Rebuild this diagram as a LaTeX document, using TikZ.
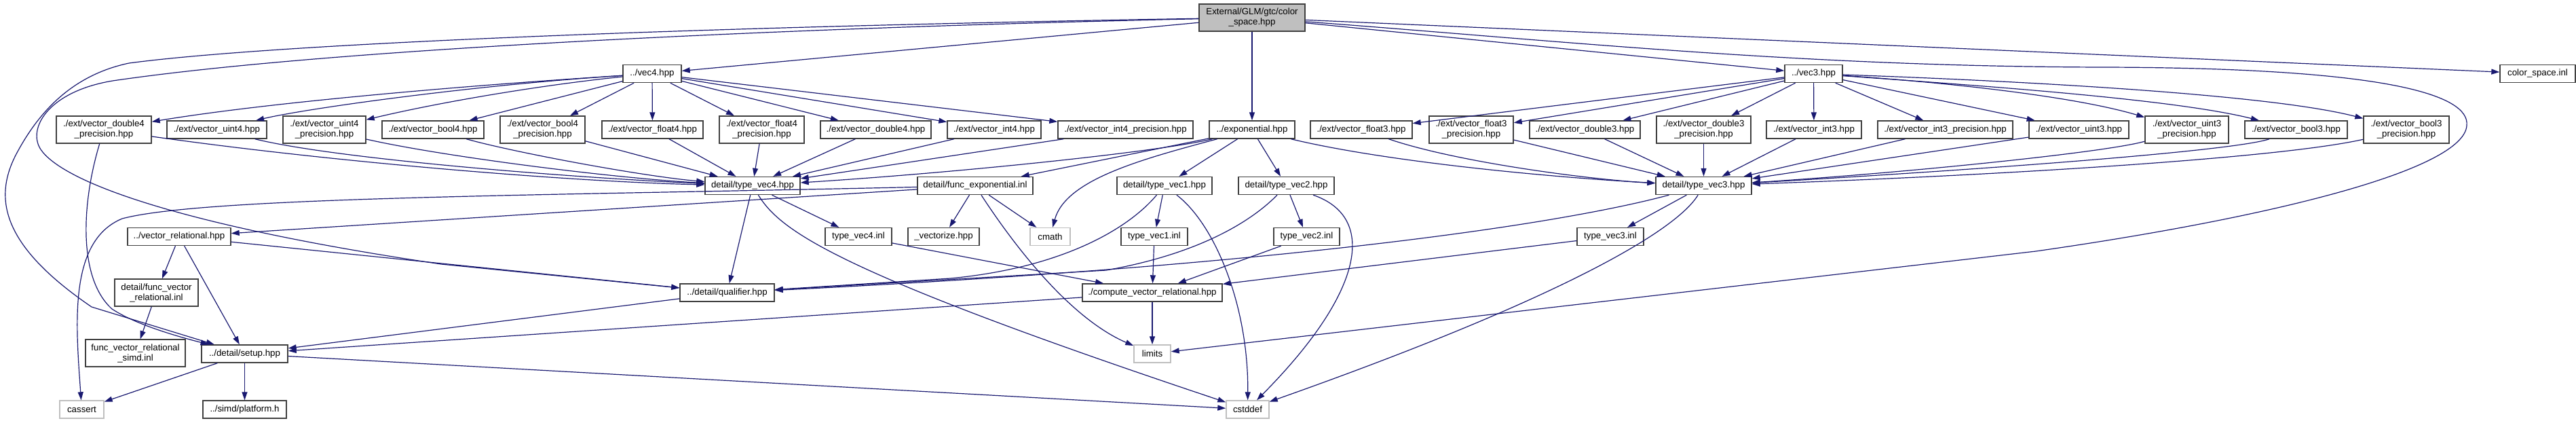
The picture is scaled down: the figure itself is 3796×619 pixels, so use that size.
\documentclass[tikz,border=0pt]{standalone}
\usepackage{fontspec}
\setmainfont{Liberation Sans}
\usetikzlibrary{positioning,arrows.meta}
\definecolor{edgeblue}{HTML}{191970}
\definecolor{boxgrey}{HTML}{404040}
\definecolor{sysgrey}{HTML}{BFBFBF}
\tikzset{
  file/.style={draw=boxgrey, line width=1.4pt, fill=white, inner sep=0pt,
    minimum height=26, align=center, font=\fontsize{13.3}{15}\selectfont},
  file2/.style={file, minimum height=40},
  sysfile/.style={file, draw=sysgrey},
  rootfile/.style={file2, fill=sysgrey},
  edge/.style={draw=edgeblue, line width=1.2pt, -{Triangle[length=12pt,width=8pt]}}
}

\begin{document}
\begin{tikzpicture}[x=1pt, y=-1pt]
  \useasboundingbox (0,0) rectangle (3796,619);

  % top
  \node[rootfile, minimum width=156] (root) at (1845,26) {External/GLM/gtc/color\\\_space.hpp};
  \node[file, minimum width=86] (vec4) at (961,108.5) {../vec4.hpp};
  \node[file, minimum width=85] (vec3) at (2672.5,108.5) {../vec3.hpp};
  \node[file, minimum width=111] (csinl) at (3739.5,108.5) {color\_space.inl};

  % ext row
  \node[file2, minimum width=140] (d4p) at (153,191) {./ext/vector\_double4\\\_precision.hpp};
  \node[file, minimum width=147] (u4) at (319.5,191) {./ext/vector\_uint4.hpp};
  \node[file2, minimum width=122] (u4p) at (478,191) {./ext/vector\_uint4\\\_precision.hpp};
  \node[file, minimum width=150] (b4) at (638,191) {./ext/vector\_bool4.hpp};
  \node[file2, minimum width=125] (b4p) at (799.5,191) {./ext/vector\_bool4\\\_precision.hpp};
  \node[file, minimum width=149] (f4) at (961.5,191) {./ext/vector\_float4.hpp};
  \node[file2, minimum width=125] (f4p) at (1122.5,191) {./ext/vector\_float4\\\_precision.hpp};
  \node[file, minimum width=163] (d4) at (1290.5,191) {./ext/vector\_double4.hpp};
  \node[file, minimum width=138] (i4) at (1465,191) {./ext/vector\_int4.hpp};
  \node[file, minimum width=199] (i4p) at (1658.5,191) {./ext/vector\_int4\_precision.hpp};
  \node[file, minimum width=126] (expo) at (1845,191) {../exponential.hpp};
  \node[file, minimum width=150] (f3) at (2006,191) {./ext/vector\_float3.hpp};
  \node[file2, minimum width=124] (f3p) at (2168,191) {./ext/vector\_float3\\\_precision.hpp};
  \node[file, minimum width=163] (d3) at (2335.5,191) {./ext/vector\_double3.hpp};
  \node[file2, minimum width=139] (d3p) at (2510.5,191) {./ext/vector\_double3\\\_precision.hpp};
  \node[file, minimum width=140] (i3) at (2673,191) {./ext/vector\_int3.hpp};
  \node[file, minimum width=199] (i3p) at (2866.5,191) {./ext/vector\_int3\_precision.hpp};
  \node[file, minimum width=147] (u3) at (3063.5,191) {./ext/vector\_uint3.hpp};
  \node[file2, minimum width=123] (u3p) at (3222.5,191) {./ext/vector\_uint3\\\_precision.hpp};
  \node[file, minimum width=151] (b3) at (3383.5,191) {./ext/vector\_bool3.hpp};
  \node[file2, minimum width=126] (b3p) at (3546,191) {./ext/vector\_bool3\\\_precision.hpp};

  % detail row
  \node[file, minimum width=140] (tv4) at (1109,273.5) {detail/type\_vec4.hpp};
  \node[file, minimum width=170] (fexp) at (1437,273.5) {detail/func\_exponential.inl};
  \node[file, minimum width=140] (tv1) at (1716,273.5) {detail/type\_vec1.hpp};
  \node[file, minimum width=141] (tv2) at (1895.5,273.5) {detail/type\_vec2.hpp};
  \node[file, minimum width=141] (tv3) at (2510.5,273.5) {detail/type\_vec3.hpp};

  \node[file, minimum width=152] (vrel) at (264,348.5) {../vector\_relational.hpp};
  \node[file, minimum width=98] (tv4inl) at (1265,348.5) {type\_vec4.inl};
  \node[file, minimum width=105] (vecz) at (1390.5,348.5) {\_vectorize.hpp};
  \node[sysfile, minimum width=59] (cmath) at (1547.5,348.5) {cmath};
  \node[file, minimum width=98] (tv1inl) at (1701,348.5) {type\_vec1.inl};
  \node[file, minimum width=97] (tv2inl) at (1925.5,348.5) {type\_vec2.inl};
  \node[file, minimum width=98] (tv3inl) at (2373,348.5) {type\_vec3.inl};

  \node[file2, minimum width=123] (fvrel) at (230.5,431) {detail/func\_vector\\\_relational.inl};
  \node[file, minimum width=139] (qual) at (1071.5,431) {../detail/qualifier.hpp};
  \node[file, minimum width=206] (cvrel) at (1698,431) {./compute\_vector\_relational.hpp};

  \node[file2, minimum width=147] (fvsimd) at (199.5,520) {func\_vector\_relational\\\_simd.inl};
  \node[file, minimum width=127] (setup) at (360.5,521) {../detail/setup.hpp};
  \node[sysfile, minimum width=54] (limits) at (1698,521) {limits};

  \node[sysfile, minimum width=65] (cassert) at (120.5,603) {cassert};
  \node[file, minimum width=123] (platform) at (360.5,603) {../simd/platform.h};
  \node[sysfile, minimum width=63] (cstddef) at (1838.5,603) {cstddef};

  % root
  \draw[edge] (root) -- (vec4);
  \draw[edge] (root) -- (vec3);
  \draw[edge] (root) -- (expo);
  \draw[edge] (root) -- (csinl);
  \draw[edge] (root) .. controls (1000,40) and (400,65) .. (190,93)
    .. controls (110,110) and (60,160) .. (25,225)
    .. controls (-10,290) and (0,360) .. (135,452) -- (setup);
  \draw[edge] (root) .. controls (1200,40) and (500,70) .. (166,119)
    .. controls (70,135) and (40,190) .. (60,220)
    .. controls (90,265) and (250,330) .. (650,389) -- (qual);
  \draw[edge] (root) .. controls (2300,60) and (2650,98) .. (3100,99)
    .. controls (3520,100) and (3640,140) .. (3635,185)
    .. controls (3630,250) and (3350,320) .. (3000,370) -- (limits);

  % vec4 and its ext headers
  \draw[edge] (vec4) .. controls (700,125) and (400,150) .. (d4p);
  \draw[edge] (vec4) .. controls (700,125) and (450,160) .. (u4);
  \draw[edge] (vec4) .. controls (800,125) and (650,150) .. (u4p);
  \foreach \n in {b4,b4p,f4,f4p,d4,i4,i4p}
    \draw[edge] (vec4) -- (\n);
  \draw[edge] (d4p) .. controls (500,240) and (850,268) .. (tv4);
  \draw[edge] (u4) .. controls (500,235) and (850,262) .. (tv4);
  \draw[edge] (u4p) .. controls (650,230) and (900,262) .. (tv4);
  \draw[edge] (b4) .. controls (760,225) and (950,260) .. (tv4);
  \foreach \n in {b4p,f4,f4p,d4,i4,i4p}
    \draw[edge] (\n) -- (tv4);
  \draw[edge] (d4p) .. controls (120,300) and (115,410) .. (165,455)
    .. controls (200,478) and (260,495) .. (setup);

  % vec3 and its ext headers
  \foreach \n in {f3,f3p,d3,d3p,i3,i3p,u3}
    \draw[edge] (vec3) -- (\n);
  \draw[edge] (vec3) .. controls (2850,120) and (3050,140) .. (u3p);
  \draw[edge] (vec3) .. controls (2900,125) and (3200,145) .. (b3);
  \draw[edge] (vec3) .. controls (3000,120) and (3350,140) .. (b3p);
  \draw[edge] (f3) .. controls (2150,240) and (2350,265) .. (tv3);
  \foreach \n in {f3p,d3,d3p,i3,i3p,u3}
    \draw[edge] (\n) -- (tv3);
  \draw[edge] (u3p) .. controls (3100,225) and (2800,255) .. (tv3);
  \draw[edge] (b3) .. controls (3300,220) and (3000,245) .. (tv3);
  \draw[edge] (b3p) .. controls (3350,235) and (2900,260) .. (tv3);

  % exponential
  \draw[edge] (expo) .. controls (1700,225) and (1400,255) .. (tv4);
  \draw[edge] (expo) -- (fexp);
  \draw[edge] (expo) .. controls (1680,235) and (1570,265) .. (cmath);
  \draw[edge] (expo) -- (tv1);
  \draw[edge] (expo) -- (tv2);
  \draw[edge] (expo) .. controls (2050,240) and (2300,262) .. (tv3);

  \draw[edge] (fexp) -- (vrel);
  \draw[edge] (fexp) .. controls (800,288) and (300,290) .. (180,322)
    .. controls (100,355) and (112,480) .. (cassert);
  \draw[edge] (fexp) -- (vecz);
  \draw[edge] (fexp) -- (cmath);
  \draw[edge] (fexp) .. controls (1500,370) and (1580,470) .. (limits);

  \draw[edge] (vrel) -- (fvrel);
  \draw[edge] (vrel) -- (setup);
  \draw[edge] (vrel) -- (qual);
  \draw[edge] (fvrel) -- (fvsimd);

  % type_vecN
  \draw[edge] (tv4) -- (qual);
  \draw[edge] (tv4) -- (tv4inl);
  \draw[edge] (tv4) .. controls (1150,340) and (1230,400) .. (cstddef);
  \draw[edge] (tv1) -- (tv1inl);
  \draw[edge] (tv1) .. controls (1660,340) and (1560,395) .. (1400,410) -- (qual);
  \draw[edge] (tv1) .. controls (1790,330) and (1840,450) .. (cstddef);
  \draw[edge] (tv2) -- (tv2inl);
  \draw[edge] (tv2) .. controls (1840,330) and (1760,375) .. (1630,398) -- (qual);
  \draw[edge] (tv2) .. controls (2030,320) and (2010,430) .. (cstddef);
  \draw[edge] (tv3) -- (tv3inl);
  \draw[edge] (tv3) .. controls (2300,330) and (1900,390) .. (qual);
  \draw[edge] (tv3) .. controls (2470,340) and (2300,440) .. (cstddef);
  \foreach \n in {tv4inl,tv1inl,tv2inl,tv3inl}
    \draw[edge] (\n) -- (cvrel);

  \draw[edge] (cvrel) -- (setup);
  \draw[edge] (cvrel) -- (limits);
  \draw[edge] (qual) -- (setup);
  \draw[edge] (setup) -- (cassert);
  \draw[edge] (setup) -- (platform);
  \draw[edge] (setup) -- (cstddef);
\end{tikzpicture}
\end{document}
